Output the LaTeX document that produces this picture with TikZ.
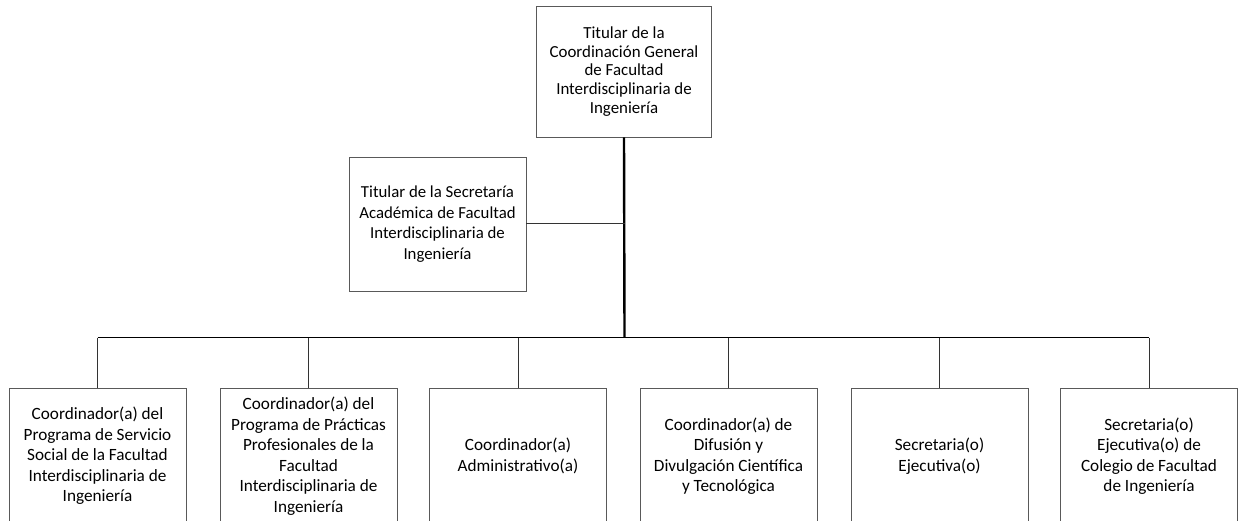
\documentclass[tikz,border=0pt]{standalone}
\usepackage{fontspec}
\setmainfont{Carlito}
\usetikzlibrary{positioning}

\tikzset{
  cargo/.style={draw=black!65, line width=0.9pt, align=center, inner sep=2pt,
    minimum width=177pt, minimum height=134pt, font=\fontsize{17.2}{20.5}\selectfont},
  spine/.style={black, line width=2.4pt},
  busline/.style={black, line width=1.3pt},
  link/.style={black!80, line width=1pt}
}

\begin{document}
\begin{tikzpicture}[x=1pt,y=-1pt]
\useasboundingbox (0,0) rectangle (1238,521);

%%%%%% top level %%%%%%
{
\node[cargo, minimum width=175pt, minimum height=131pt, font=\fontsize{16.9}{18.6}\selectfont] (titular) at (624,71.5)
  {Titular de la\\Coordinación General\\de Facultad\\Interdisciplinaria de\\Ingeniería};

\node[cargo, font=\fontsize{16.8}{20.5}\selectfont] (secretaria) at (437.5,224)
  {Titular de la Secretaría\\Académica de Facultad\\Interdisciplinaria de\\Ingeniería};
}

%%%%%% coordinaciones %%%%%%
{
\node[cargo, minimum height=136pt] (servicio) at (97.5,456)
  {Coordinador(a) del\\Programa de Servicio\\Social de la Facultad\\Interdisciplinaria de\\Ingeniería};
\node[cargo, minimum height=136pt] (practicas) at (308.5,456)
  {Coordinador(a) del\\Programa de Prácticas\\Profesionales de la\\Facultad\\Interdisciplinaria de\\Ingeniería};
\node[cargo, minimum height=136pt] (admin) at (518,456)
  {Coordinador(a)\\Administrativo(a)};
\node[cargo, minimum height=136pt] (difusion) at (728.5,456)
  {Coordinador(a) de\\Difusión y\\Divulgación Científica\\y Tecnológica};
\node[cargo, minimum height=136pt] (secejec) at (939.5,456)
  {Secretaria(o)\\Ejecutiva(o)};
\node[cargo, minimum height=136pt] (colegio) at (1149,456)
  {Secretaria(o)\\Ejecutiva(o) de\\Colegio de Facultad\\de Ingeniería};
}

%%%%%% connectors %%%%%%
{
\coordinate (bus) at (624.5,337.5);

\draw[spine] (titular.south) -- (bus);
\draw[link] (secretaria.east) -- (secretaria.east -| bus);
\draw[busline] (servicio.north |- bus) -- (colegio.north |- bus);

\foreach \n in {servicio,practicas,admin,difusion,secejec,colegio}
  \draw[link] (\n.north |- bus) -- (\n.north);
}

\end{tikzpicture}
\end{document}
